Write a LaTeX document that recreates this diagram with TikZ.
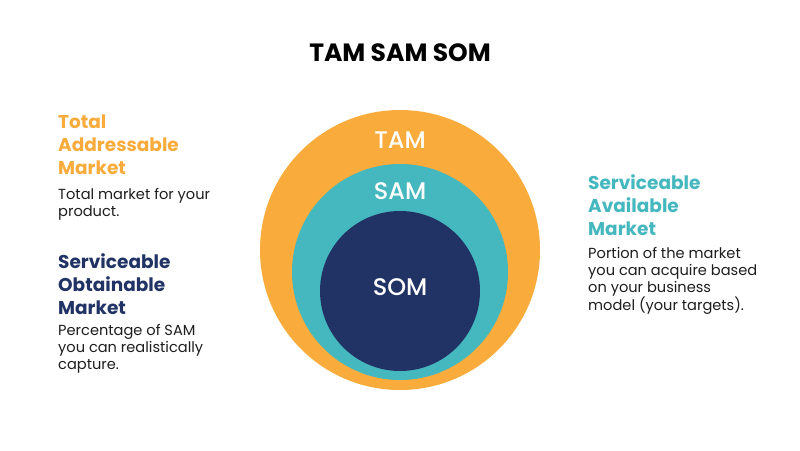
\documentclass[tikz,border=0pt]{standalone}
\usepackage{fontspec}
\setmainfont{Poppins}
\newfontfamily\tagfont{Poppins Medium}
\usetikzlibrary{positioning}
\definecolor{corange}{HTML}{F9AB3B}
\definecolor{cteal}{HTML}{45B7BF}
\definecolor{cnavy}{HTML}{213365}
\definecolor{ctext}{HTML}{1E1E1E}

\begin{document}
\begin{tikzpicture}[x=1pt,y=-1pt,
  ring node/.style={circle,inner sep=0pt,draw=none},
  tag node/.style={text=white,font=\tagfont\fontsize{24}{28}\selectfont},
  head node/.style={anchor=north west,align=left,inner sep=0pt,font=\fontsize{18.5}{23}\selectfont\bfseries},
  text node/.style={anchor=north west,align=left,inner sep=0pt,text=ctext,font=\fontsize{14.6}{17}\selectfont}]
  \fill[white] (0,0) rectangle (800,450);
  \useasboundingbox (0,0) rectangle (800,450);

  % title
  \node[font=\fontsize{25}{29}\selectfont\bfseries] (title) at (400,53) {TAM SAM SOM};

  % circles
  \node[ring node,fill=corange,minimum size=280] (tam) at (400,250) {};
  \node[ring node,fill=cteal,minimum size=216] (sam) at (400,272) {};
  \node[ring node,fill=cnavy,minimum size=160] (som) at (400,291) {};

  \node[tag node] (tamlabel) at (400,140) {TAM};
  \node[tag node] (samlabel) at (400,191) {SAM};
  \node[tag node] (somlabel) at (400,287) {SOM};

  % left side
  \node[head node,text=corange] (tamhead) at (58,115) {Total\\Addressable\\Market};
  \node[text node] (tamtext) at (58,188) {Total market for your\\product.};
  \node[head node,text=cnavy] (somhead) at (58,253) {Serviceable\\Obtainable\\Market};
  \node[text node] (somtext) at (58,324) {Percentage of SAM\\you can realistically\\capture.};

  % right side
  \node[head node,text=cteal] (samhead) at (588,174) {Serviceable\\Available\\Market};
  \node[text node] (samtext) at (588,247) {Portion of the market\\you can acquire based\\on your business\\model (your targets).};
\end{tikzpicture}
\end{document}
